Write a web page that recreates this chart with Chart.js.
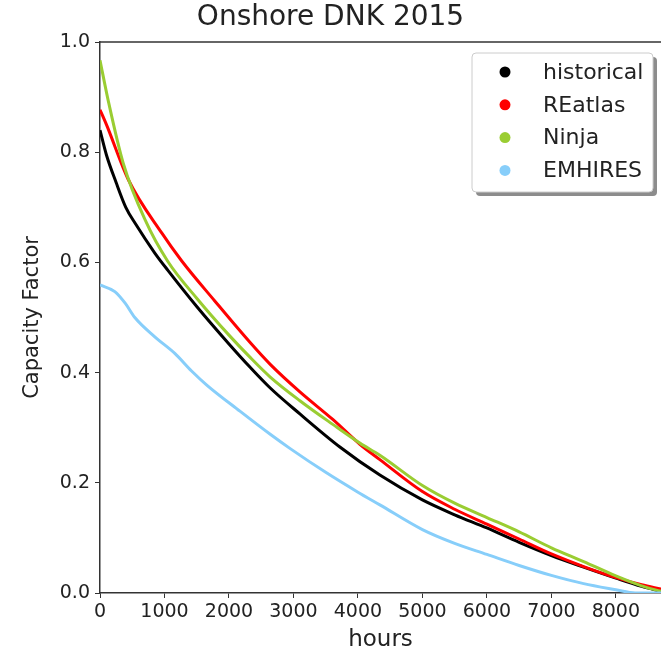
<!DOCTYPE html>
<html>
<head>
<meta charset="utf-8">
<script src="https://cdn.jsdelivr.net/npm/chart.js@4/dist/chart.umd.min.js"></script>
<style>
  body { margin: 0; background: #fff; }
</style>
</head>
<body>
<canvas id="chart" width="661" height="657"></canvas>
<script>
// duration curves: sorted hours vs capacity factor
const seriesLabels = ['historical', 'REatlas', 'Ninja', 'EMHIRES'];
const hourTicks = [0, 1000, 2000, 3000, 4000, 5000, 6000, 7000, 8000];
const cfTicks = [0, 0.2, 0.4, 0.6, 0.8, 1.0];

const historicalHours = [0, 100, 250, 400, 550, 850, 1050, 1500, 2000, 2325, 2640, 3100, 3720, 4340, 5000, 5500, 6000, 6500, 7000, 7500, 8000, 8400, 8700];
const historicalCF    = [0.840, 0.795, 0.745, 0.700, 0.670, 0.617, 0.586, 0.520, 0.452, 0.410, 0.372, 0.325, 0.265, 0.214, 0.169, 0.142, 0.118, 0.092, 0.068, 0.047, 0.027, 0.012, 0.003];

const reatlasHours = [0, 100, 440, 960, 1265, 1780, 2325, 2640, 3100, 3610, 4030, 4340, 5000, 5500, 6000, 6500, 7000, 7500, 8000, 8400, 8700];
const reatlasCF    = [0.877, 0.850, 0.750, 0.653, 0.603, 0.530, 0.455, 0.415, 0.365, 0.315, 0.270, 0.242, 0.184, 0.152, 0.125, 0.098, 0.071, 0.048, 0.028, 0.015, 0.007];

const ninjaHours = [0, 125, 360, 700, 1050, 1500, 2000, 2325, 2640, 3100, 3610, 4030, 4340, 5000, 5500, 6000, 6500, 7000, 7500, 8000, 8400, 8700];
const ninjaCF    = [0.967, 0.895, 0.780, 0.677, 0.602, 0.535, 0.468, 0.428, 0.392, 0.349, 0.306, 0.272, 0.250, 0.195, 0.163, 0.137, 0.111, 0.082, 0.057, 0.031, 0.013, 0.003];

const emhiresHours = [0, 230, 390, 540, 850, 1160, 1420, 1660, 2170, 2640, 2950, 3500, 4000, 4340, 5000, 5500, 6000, 6500, 7000, 7500, 8000, 8300, 8700];
const emhiresCF    = [0.559, 0.547, 0.526, 0.500, 0.465, 0.435, 0.403, 0.377, 0.330, 0.288, 0.262, 0.219, 0.183, 0.160, 0.115, 0.090, 0.070, 0.050, 0.032, 0.017, 0.006, 0.000, 0.000];

const seriesColors = ['#000000', '#ff0000', '#9acd32', '#87cefa'];

let toPoints = (hours, cf) => hours.map((h, i) => ({ x: h, y: cf[i] }));

const FONT = "'DejaVu Sans', sans-serif";

let mkDataset = (i, hours, cf) => ({
  label: seriesLabels[i],
  data: toPoints(hours, cf),
  borderColor: seriesColors[i],
  backgroundColor: seriesColors[i],
  borderWidth: 3,
  pointRadius: 0,
  cubicInterpolationMode: 'monotone',
  order: 4 - i
});

// top spine (the right one falls outside the picture)
let topSpine = {
  id: 'topSpine',
  afterDraw(chart) {
    let { ctx, chartArea } = chart;
    ctx.save();
    ctx.strokeStyle = '#333';
    ctx.lineWidth = 1.5;
    ctx.beginPath();
    ctx.moveTo(chartArea.left, chartArea.top);
    ctx.lineTo(chartArea.right, chartArea.top);
    ctx.stroke();
    ctx.restore();
  }
};

// matplotlib style legend box with shadow
let boxLegend = {
  id: 'boxLegend',
  afterDraw(chart) {
    let ctx = chart.ctx;
    let x = 472, y = 53, w = 181, h = 139, r = 4;
    let rr = (px, py) => {
      ctx.beginPath();
      ctx.roundRect(px, py, w, h, r);
    };
    ctx.save();
    ctx.fillStyle = '#8c8c8c';
    rr(x + 4, y + 4);
    ctx.fill();
    ctx.fillStyle = '#fff';
    ctx.strokeStyle = '#cccccc';
    ctx.lineWidth = 1;
    rr(x, y);
    ctx.fill();
    ctx.stroke();
    ctx.font = '22px ' + FONT;
    ctx.textBaseline = 'middle';
    chart.data.datasets.forEach((ds, i) => {
      let cy = 72 + i * 32.8;
      ctx.fillStyle = ds.borderColor;
      ctx.beginPath();
      ctx.arc(505, cy, 5.5, 0, Math.PI * 2);
      ctx.fill();
      ctx.fillStyle = '#222';
      ctx.fillText(ds.label, 543, cy + 1);
    });
    ctx.restore();
  }
};

let data = {
  datasets: [
    mkDataset(0, historicalHours, historicalCF),
    mkDataset(1, reatlasHours, reatlasCF),
    mkDataset(2, ninjaHours, ninjaCF),
    mkDataset(3, emhiresHours, emhiresCF)
  ]
};

let options = {
  responsive: false,
  animation: false,
  devicePixelRatio: 1,
  layout: { padding: { left: 0, right: 0, top: 0, bottom: 0 } },
  plugins: {
    legend: { display: false },
    tooltip: { enabled: false },
    title: {
      display: true,
      text: 'Onshore DNK 2015',
      color: '#222',
      font: { family: FONT, size: 28, weight: 'normal' },
      padding: { top: 1, bottom: 7.4 }
    }
  },
  scales: {
    x: {
      type: 'linear',
      min: 0,
      max: 8700,
      afterFit: (scale) => { scale.height = 64; scale.paddingRight = 0; },
      afterBuildTicks: (scale) => { scale.ticks = hourTicks.map(v => ({ value: v })); },
      border: { display: true, color: '#333', width: 1.5 },
      grid: { drawOnChartArea: false, drawTicks: true, tickLength: 5, color: '#333' },
      ticks: {
        autoSkip: false,
        maxRotation: 0,
        padding: 3,
        color: '#222',
        font: { family: FONT, size: 19 },
        callback: (v) => String(v)
      },
      title: {
        display: true,
        text: 'hours',
        color: '#222',
        font: { family: FONT, size: 23 },
        padding: { top: 0, bottom: 3 }
      }
    },
    y: {
      min: 0,
      max: 1,
      afterFit: (scale) => { scale.width = 100; },
      afterBuildTicks: (scale) => { scale.ticks = cfTicks.map(v => ({ value: v })); },
      border: { display: true, color: '#333', width: 1.5 },
      grid: { drawOnChartArea: false, drawTicks: true, tickLength: 5, color: '#333' },
      ticks: {
        autoSkip: false,
        padding: 5,
        color: '#222',
        font: { family: FONT, size: 19 },
        callback: (v) => v.toFixed(1)
      },
      title: {
        display: true,
        text: 'Capacity Factor',
        color: '#222',
        font: { family: FONT, size: 21 },
        padding: { top: 20, bottom: 0 }
      }
    }
  }
};

new Chart('chart', { type: 'line', data, options, plugins: [topSpine, boxLegend] });
</script>
</body>
</html>
